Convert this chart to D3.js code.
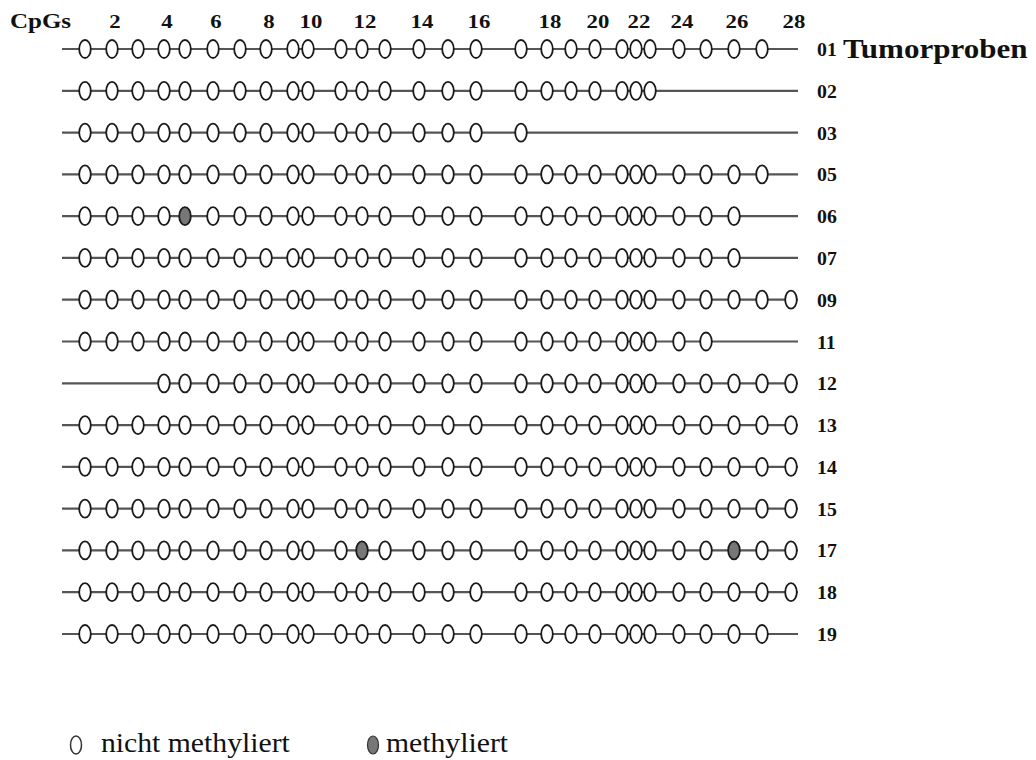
<!DOCTYPE html>
<html>
<head>
<meta charset="utf-8">
<script src="https://cdn.jsdelivr.net/npm/d3@7"></script>
<style>
  html, body { margin: 0; padding: 0; background: #fff; }
  svg { display: block; }
  text { font-family: "Liberation Serif", "Times New Roman", Tinos, serif; fill: #111; }
</style>
</head>
<body>
<svg id="chart" width="1036" height="760"></svg>
<script>
// Relative position of each CpG along the amplicon (arbitrary units, 0 = start of line)
const cpgNumbers = d3.range(1, 29);
const cpgOffsets = [23, 50, 76, 102, 123, 151, 178, 204, 231, 246, 279, 300, 323, 357,
                    386, 414, 459, 485, 509, 533, 560, 574, 588, 617, 644, 672, 700, 729];
const ampliconLength = 736;

// Header tick labels (every second CpG)
const tickLabels = [2, 4, 6, 8, 10, 12, 14, 16, 18, 20, 22, 24, 26, 28];

// Tumour samples: first and last CpG covered, and methylated CpGs
const sampleIds   = ["01", "02", "03", "05", "06", "07", "09", "11", "12", "13", "14", "15", "17", "18", "19"];
const firstCpG    = [1, 1, 1, 1, 1, 1, 1, 1, 4, 1, 1, 1, 1, 1, 1];
const lastCpG     = [27, 23, 17, 27, 26, 26, 28, 25, 28, 28, 28, 28, 28, 28, 27];
const methylated  = [[], [], [], [], [5], [], [], [], [], [], [], [], [12, 26], [], []];

const svg = d3.select("#chart");

const x = d3.scaleLinear().domain([0, ampliconLength]).range([62, 798]);
const y = d3.scalePoint().domain(sampleIds).range([49, 634]);
const cpgX = n => x(cpgOffsets[n - 1]);

// Typeset text is slightly wide: stretch glyphs horizontally about their anchor x
function widen(sel, k) {
  sel.each(function () {
    const ax = +this.getAttribute("x");
    d3.select(this).attr("transform", `translate(${ax - ax * k},0) scale(${k},1)`);
  });
}

// Header
svg.append("text")
  .attr("x", 10).attr("y", 28)
  .attr("font-size", 20).attr("font-weight", "bold")
  .text("CpGs")
  .call(widen, 1.25);

svg.append("g").selectAll("text")
  .data(tickLabels)
  .join("text")
  .attr("x", d => cpgX(d) + 3)
  .attr("y", 28)
  .attr("text-anchor", "middle")
  .attr("font-size", 19).attr("font-weight", "bold")
  .text(d => d)
  .call(widen, 1.2);

// One row per sample
const rows = svg.append("g").selectAll("g")
  .data(sampleIds.map((id, i) => ({
    id, first: firstCpG[i], last: lastCpG[i], meth: methylated[i]
  })))
  .join("g")
  .attr("transform", d => `translate(0,${y(d.id)})`);

rows.append("line")
  .attr("x1", x(0)).attr("x2", x(ampliconLength))
  .attr("y1", 0).attr("y2", 0)
  .attr("stroke", "#555").attr("stroke-width", 2.2);

rows.selectAll("ellipse")
  .data(d => d3.range(d.first, d.last + 1).map(n => ({ n, m: d.meth.includes(n) })))
  .join("ellipse")
  .attr("cx", d => cpgX(d.n))
  .attr("cy", 0)
  .attr("rx", 5.8).attr("ry", 9)
  .attr("fill", d => d.m ? "#777" : "#fff")
  .attr("stroke", "#1a1a1a").attr("stroke-width", 1.8);

rows.append("text")
  .attr("x", 817).attr("y", 7)
  .attr("font-size", 18).attr("font-weight", "bold")
  .text(d => d.id)
  .call(widen, 1.1);

svg.append("text")
  .attr("x", 843).attr("y", 58)
  .attr("font-size", 27).attr("font-weight", "bold")
  .text("Tumorproben")
  .call(widen, 1.15);

// Legend
const legend = svg.append("g").attr("transform", "translate(0,745)");
legend.append("ellipse")
  .attr("cx", 76).attr("cy", 0).attr("rx", 5.5).attr("ry", 9)
  .attr("fill", "#fff").attr("stroke", "#333").attr("stroke-width", 1.5);
legend.append("text")
  .attr("x", 101).attr("y", 7)
  .attr("font-size", 27)
  .attr("font-family", "Liberation Serif")
  .text("nicht methyliert")
  .call(widen, 1.1);
legend.append("ellipse")
  .attr("cx", 373).attr("cy", 0).attr("rx", 5.5).attr("ry", 9)
  .attr("fill", "#777").attr("stroke", "#333").attr("stroke-width", 1.2);
legend.append("text")
  .attr("x", 386).attr("y", 7)
  .attr("font-size", 27)
  .attr("font-family", "Liberation Serif")
  .text("methyliert")
  .call(widen, 1.1);
</script>
</body>
</html>
